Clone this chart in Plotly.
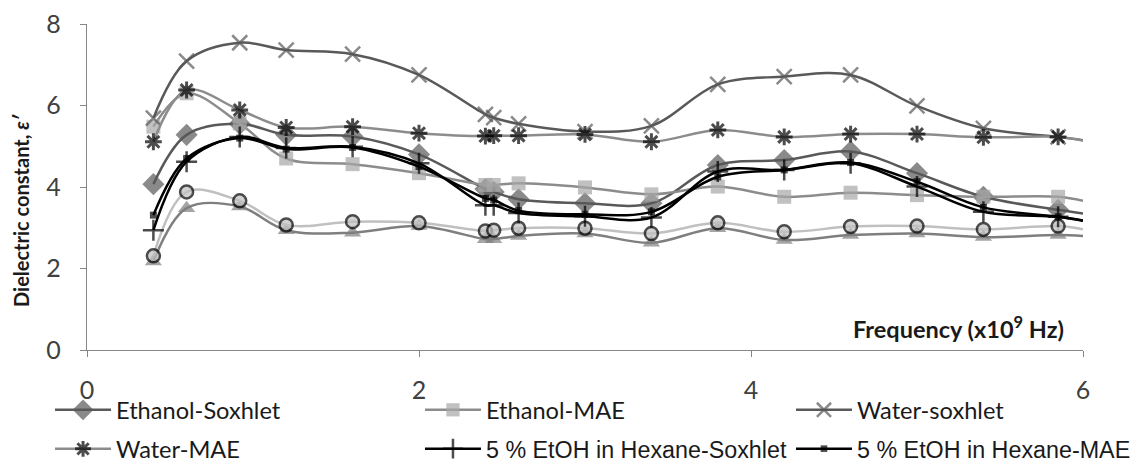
import plotly.graph_objects as go

# Frequency (x10^9 Hz)
freq = [0.4, 0.6, 0.92, 1.2, 1.6, 2.0, 2.4, 2.45, 2.6, 3.0, 3.4, 3.8, 4.2, 4.6, 5.0, 5.4, 5.85, 6.0]

ethanol_soxhlet = [4.07, 5.28, 5.55, 5.28, 5.24, 4.80, 3.95, 3.88, 3.70, 3.60, 3.60, 4.54, 4.66, 4.87, 4.34, 3.76, 3.44, 3.35]
ethanol_mae     = [5.48, 6.30, 5.56, 4.70, 4.56, 4.34, 4.05, 4.05, 4.09, 3.99, 3.82, 4.01, 3.76, 3.86, 3.80, 3.76, 3.76, 3.66]
water_soxhlet   = [5.69, 7.09, 7.54, 7.36, 7.26, 6.75, 5.78, 5.70, 5.55, 5.36, 5.50, 6.52, 6.71, 6.75, 5.99, 5.44, 5.23, 5.15]
water_mae       = [5.11, 6.38, 5.89, 5.46, 5.48, 5.32, 5.25, 5.26, 5.26, 5.29, 5.11, 5.40, 5.23, 5.30, 5.30, 5.22, 5.23, 5.14]
hex_soxhlet     = [2.94, 4.62, 5.23, 4.96, 4.99, 4.58, 3.55, 3.55, 3.36, 3.28, 3.25, 4.38, 4.42, 4.58, 4.01, 3.39, 3.27, 3.18]
hex_mae         = [3.31, 4.70, 5.20, 4.93, 4.97, 4.50, 3.72, 3.68, 3.42, 3.33, 3.39, 4.25, 4.42, 4.60, 4.13, 3.50, 3.27, 3.17]
series_triangle = [2.17, 3.48, 3.52, 2.94, 2.88, 3.04, 2.72, 2.72, 2.80, 2.86, 2.63, 2.99, 2.70, 2.82, 2.86, 2.77, 2.82, 2.80]
series_circle   = [2.31, 3.88, 3.66, 3.07, 3.15, 3.12, 2.92, 2.94, 2.99, 2.99, 2.86, 3.12, 2.90, 3.03, 3.04, 2.96, 3.04, 2.96]

x_ticks = [0, 2, 4, 6]
y_ticks = [0, 2, 4, 6, 8]

CAL = "Lato"
ARI = "Liberation Sans"


def sizes(s):
    # last point (6.0) is drawn by the line only, without marker
    return [s] * (len(freq) - 1) + [0]


fig = go.Figure()


def add(y, name, line_color, symbol, msize, mcolor, mline_color, mline_w, legend=None, lw=2.5):
    fig.add_trace(go.Scatter(
        x=freq, y=y, name=name, mode="lines+markers",
        line=dict(color=line_color, width=lw, shape="spline", smoothing=1.0),
        marker=dict(symbol=symbol, size=sizes(msize), color=mcolor,
                    line=dict(color=mline_color, width=mline_w)),
        legend=legend or "legend", showlegend=legend is not None,
    ))


add(series_triangle, "Series 8", "#7f7f7f", "triangle-up", 15, "#7f7f7f", "#7f7f7f", 0)
add(series_circle, "Series 7", "#c0c0c0", "circle", 13, "#c0c0c0", "#000000", 2.5)
add(ethanol_soxhlet, "Ethanol-Soxhlet", "#595959", "diamond", 17, "#595959", "#595959", 0, "legend")
add(ethanol_mae, "Ethanol-MAE", "#8c8c8c", "square", 14, "#a6a6a6", "#a6a6a6", 0, "legend2")
add(water_soxhlet, "Water-soxhlet", "#595959", "x-thin-open", 15, "#595959", "#5f5f5f", 2.5, "legend3")
add(water_mae, "Water-MAE", "#8c8c8c", "asterisk-open", 14, "#000000", "#000000", 3, "legend4")
add(hex_soxhlet, "5 % EtOH in Hexane-Soxhlet", "#000000", "cross-thin-open", 15, "#000000", "#000000", 2.5, "legend5")
add(hex_mae, "5 % EtOH in Hexane-MAE", "#000000", "square", 7, "#000000", "#000000", 0, "legend6")


def leg(x, y, family):
    return dict(orientation="v", font=dict(family=family, size=23.6 if family == CAL else 23.3, color="#1a1a1a"),
                bgcolor="rgba(0,0,0,0)", itemwidth=56, yanchor="middle", xanchor="left",
                x=x, y=y)


col_x = [-0.0371, 0.3343, 0.7068]
row_y = [-0.184, -0.3037]

# the page body adds an 8px offset, so the margins are shifted accordingly
fig.update_layout(
    width=1142, height=471,
    margin=dict(l=79, r=67, t=16, b=129, autoexpand=False),
    paper_bgcolor="white", plot_bgcolor="white",
    font=dict(family=CAL, color="#404040"),
    xaxis=dict(range=[0, 6], tickvals=x_ticks, showgrid=False, zeroline=False,
               showline=True, linecolor="#868686", linewidth=1.3,
               ticks="outside", ticklen=6, tickcolor="#868686",
               tickfont=dict(family=CAL, size=25, color="#404040"),
               ticklabelstandoff=12, ticklabeloverflow="allow"),
    yaxis=dict(range=[0, 8], tickvals=y_ticks, showgrid=False, zeroline=False,
               showline=True, linecolor="#868686", linewidth=1.3,
               ticks="outside", ticklen=6, tickcolor="#868686",
               tickfont=dict(family=CAL, size=25, color="#404040"),
               ticklabelstandoff=14, ticklabeloverflow="allow"),
    legend=leg(col_x[0], row_y[0], CAL),
    legend2=leg(col_x[1], row_y[0], CAL),
    legend3=leg(col_x[2], row_y[0], CAL),
    legend4=leg(col_x[0], row_y[1], CAL),
    legend5=leg(col_x[1], row_y[1], ARI),
    legend6=leg(col_x[2], row_y[1], ARI),
    annotations=[
        dict(text="<b>Frequency (x10<sup>9</sup> Hz)</b>", xref="paper", yref="paper",
             x=0.8745, y=0.0675, showarrow=False, xanchor="center", yanchor="middle",
             font=dict(family=CAL, size=23.5, color="#1a1a1a")),
        dict(text="<b>Dielectric constant, <i>ε′</i></b>", xref="paper", yref="paper",
             x=-0.0663, y=0.4294, showarrow=False, textangle=-90,
             xanchor="center", yanchor="middle",
             font=dict(family=CAL, size=20, color="#1a1a1a")),
    ],
)

fig.write_html("out.html")
